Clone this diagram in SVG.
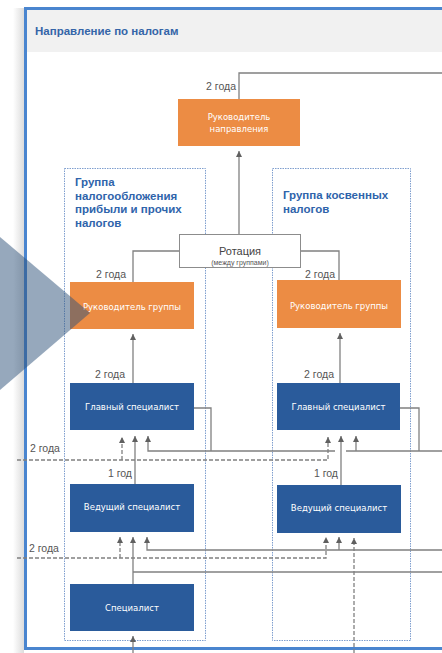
<svg xmlns="http://www.w3.org/2000/svg" width="442" height="653" viewBox="0 0 442 653">
<style>
.lbl{font-family:"Liberation Sans",Arial,sans-serif;font-size:10.5px;fill:#555}
.bt{font-family:"DejaVu Sans",sans-serif;font-size:8.5px;fill:#ffffff;text-anchor:middle}
.gt{font-family:"Liberation Sans",Arial,sans-serif;font-size:11.5px;font-weight:bold;fill:#2f64ab}
.c{fill:none;stroke:#808080;stroke-width:1.3}
.d{fill:none;stroke:#808080;stroke-width:1.3;stroke-dasharray:4 2}
.or{fill:#ec8c44}
.bl{fill:#2a5b9b}
.grp{fill:none;stroke:#7f9fcf;stroke-width:1;stroke-dasharray:1.5 1}
</style>
<defs>
<linearGradient id="sh" x1="0" x2="1" y1="0" y2="0">
<stop offset="0" stop-color="#ffffff"/>
<stop offset="1" stop-color="#dcdcdc"/>
</linearGradient>
<marker id="a" markerUnits="userSpaceOnUse" markerWidth="6" markerHeight="6" refX="6" refY="3" orient="auto">
<path d="M0,0 L6,3 L0,6 z" fill="#606060"/>
</marker>
</defs>
<rect x="0" y="0" width="442" height="653" fill="#ffffff"/>
<rect x="13" y="8" width="11" height="645" fill="url(#sh)"/>
<g id="frame">
<rect x="25.5" y="8.5" width="430" height="640" fill="#ffffff" stroke="#4a85cf" stroke-width="3"/>
<rect x="27" y="10" width="420" height="42" fill="#f1f1f1"/>
<text x="35" y="34.5" font-family="Liberation Sans, Arial, sans-serif" font-size="11.5" font-weight="bold" fill="#3565a8">Направление по налогам</text>
</g>
<g id="group1">
<rect class="grp" x="64.5" y="168.5" width="141" height="472"/>
<text class="gt" x="75" y="186">Группа</text>
<text class="gt" x="75" y="199.5">налогообложения</text>
<text class="gt" x="75" y="213">прибыли и прочих</text>
<text class="gt" x="75" y="226.5">налогов</text>
</g>
<g id="group2">
<rect class="grp" x="272.5" y="168.5" width="138" height="472"/>
<text class="gt" x="283" y="199">Группа косвенных</text>
<text class="gt" x="283" y="212.5">налогов</text>
</g>
<g id="connectors">
<path class="c" d="M239,99 V73 H442" stroke="#999" stroke-width="1.6"/>
<path class="c" d="M239,234 V151" marker-end="url(#a)"/>
<path class="c" d="M179,251 H133 V282"/>
<path class="c" d="M301,251 H339 V280"/>
<path class="c" d="M133,383 V334" marker-end="url(#a)"/>
<path class="c" d="M340,383 V333" marker-end="url(#a)"/>
<path class="c" d="M135,484 V436" marker-end="url(#a)"/>
<path class="c" d="M341,485 V436" marker-end="url(#a)"/>
<path class="c" d="M194,408 H211 V451"/>
<path class="c" d="M400,408 H419 V451"/>
<path class="c" d="M442,451 H346"/>
<path class="c" d="M335,451 H148 V436" marker-end="url(#a)"/>
<path class="c" d="M356,451 V436" marker-end="url(#a)"/>
<path class="d" d="M17,460 H328 V437" marker-end="url(#a)"/>
<path class="d" d="M122,460 V437" marker-end="url(#a)"/>
<path class="c" d="M133,584 V537" marker-end="url(#a)"/>
<path class="c" d="M133,572 H442"/>
<path class="c" d="M442,550 H147 V537" marker-end="url(#a)"/>
<path class="c" d="M339,550 V537" marker-end="url(#a)"/>
<path class="d" d="M17,558 H326 V537" marker-end="url(#a)"/>
<path class="d" d="M120,558 V537" marker-end="url(#a)"/>
<path class="d" d="M354,653 V538" marker-end="url(#a)"/>
<path class="c" d="M133,653 V636" marker-end="url(#a)"/>
</g>
<g id="labels">
<text class="lbl" x="236" y="90" text-anchor="end">2 года</text>
<text class="lbl" x="126" y="278" text-anchor="end">2 года</text>
<text class="lbl" x="335" y="278" text-anchor="end">2 года</text>
<text class="lbl" x="125" y="378" text-anchor="end">2 года</text>
<text class="lbl" x="334" y="378" text-anchor="end">2 года</text>
<text class="lbl" x="30" y="452">2 года</text>
<text class="lbl" x="132" y="477" text-anchor="end">1 год</text>
<text class="lbl" x="338" y="477" text-anchor="end">1 год</text>
<text class="lbl" x="29" y="552">2 года</text>
</g>
<g id="head">
<rect class="or" x="178" y="99" width="122" height="47"/>
<text class="bt" x="239" y="120">Руководитель</text>
<text class="bt" x="239" y="131.5">направления</text>
</g>
<g id="rotation">
<rect x="179.5" y="234.5" width="121" height="33" fill="#ffffff" stroke="#8c8c8c" stroke-width="1"/>
<text x="240" y="254.5" font-family="Liberation Sans, Arial, sans-serif" font-size="11" fill="#444" text-anchor="middle">Ротация</text>
<text x="240" y="264.5" font-family="Liberation Sans, Arial, sans-serif" font-size="7" fill="#555" text-anchor="middle">(между группами)</text>
</g>
<g id="lead1">
<rect class="or" x="70" y="282" width="124" height="47"/>
<text class="bt" x="132" y="310">Руководитель группы</text>
</g>
<g id="lead2">
<rect class="or" x="277" y="280" width="124" height="48"/>
<text class="bt" x="339" y="309">Руководитель группы</text>
</g>
<g id="chief1">
<rect class="bl" x="70" y="383" width="124" height="47"/>
<text class="bt" x="132" y="410">Главный специалист</text>
</g>
<g id="chief2">
<rect class="bl" x="277" y="383" width="123" height="47"/>
<text class="bt" x="338.5" y="410">Главный специалист</text>
</g>
<g id="lead_spec1">
<rect class="bl" x="70" y="484" width="124" height="48"/>
<text class="bt" x="132" y="510">Ведущий специалист</text>
</g>
<g id="lead_spec2">
<rect class="bl" x="277" y="485" width="124" height="48"/>
<text class="bt" x="339" y="511">Ведущий специалист</text>
</g>
<g id="spec1">
<rect class="bl" x="70" y="584" width="124" height="47"/>
<text class="bt" x="132" y="611">Специалист</text>
</g>
<polygon points="0,237 90,313 0,390" fill="#2e5179" fill-opacity="0.5"/>
</svg>
